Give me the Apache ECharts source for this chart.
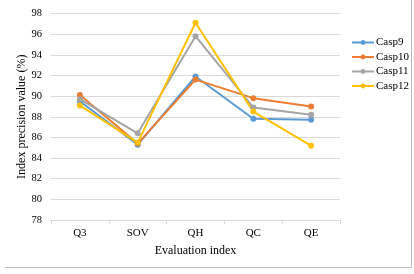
<!DOCTYPE html>
<html>
<head>
<meta charset="utf-8">
<script src="https://cdn.jsdelivr.net/npm/echarts@6/dist/echarts.min.js"></script>
<style>html,body{margin:0;padding:0;background:#fff}#c{width:414px;height:274px}</style>
</head>
<body>
<div id="c"></div>
<script>
var categories = ['Q3', 'SOV', 'QH', 'QC', 'QE'];
var casp9  = [89.5, 85.3, 91.9, 87.8, 87.7];
var casp10 = [90.1, 85.4, 91.6, 89.8, 89.0];
var casp11 = [89.7, 86.4, 95.8, 88.9, 88.2];
var casp12 = [89.1, 85.5, 97.1, 88.5, 85.2];
var seriesNames = ['Casp9', 'Casp10', 'Casp11', 'Casp12'];
var colors = ['#5B9BD5', '#ED7D31', '#A5A5A5', '#FFC000'];
var yTicks = {min: 78, max: 98, interval: 2};

var font = 'Liberation Serif';
var data = [casp9, casp10, casp11, casp12];
var chart = echarts.init(document.getElementById('c'));
chart.setOption({
  animation: false,
  color: colors,
  textStyle: {fontFamily: font},
  grid: {left: 51, right: 74, top: 13.5, bottom: 54},
  legend: {
    orient: 'vertical', left: 346, top: 32,
    itemWidth: 22, itemHeight: 6, itemGap: 3.5,
    textStyle: {fontFamily: font, fontSize: 11, color: '#000', padding: [0, 0, 0, -3]},
    data: seriesNames
  },
  xAxis: {
    type: 'category', data: categories,
    name: 'Evaluation index', nameLocation: 'middle', nameGap: 25,
    nameTextStyle: {fontFamily: font, fontSize: 12, color: '#000'},
    axisLine: {lineStyle: {color: '#d9d9d9'}},
    axisTick: {show: true, lineStyle: {color: '#d9d9d9'}, length: 4},
    axisLabel: {fontFamily: font, fontSize: 11, color: '#000', margin: 8}
  },
  yAxis: {
    type: 'value', min: yTicks.min, max: yTicks.max, interval: yTicks.interval,
    name: 'Index precision value (%)', nameLocation: 'middle', nameGap: 23,
    nameMoveOverlap: false,
    nameTextStyle: {fontFamily: font, fontSize: 12, color: '#000'},
    axisLine: {show: false}, axisTick: {show: false},
    axisLabel: {fontFamily: font, fontSize: 10.5, color: '#000', margin: 9},
    splitLine: {lineStyle: {color: '#d9d9d9'}}
  },
  series: data.map(function (d, i) {
    return {
      name: seriesNames[i], type: 'line', data: d,
      symbol: 'circle', symbolSize: 6,
      lineStyle: {width: 2},
      itemStyle: {color: colors[i]}
    };
  }),
  graphic: [
    {type: 'line', shape: {x1: 5, y1: 267.5, x2: 411.5, y2: 267.5}, style: {stroke: '#bfbfbf', lineWidth: 1}},
    {type: 'line', shape: {x1: 411.5, y1: 0, x2: 411.5, y2: 267.5}, style: {stroke: '#bfbfbf', lineWidth: 1}}
  ]
});
</script>
</body>
</html>
